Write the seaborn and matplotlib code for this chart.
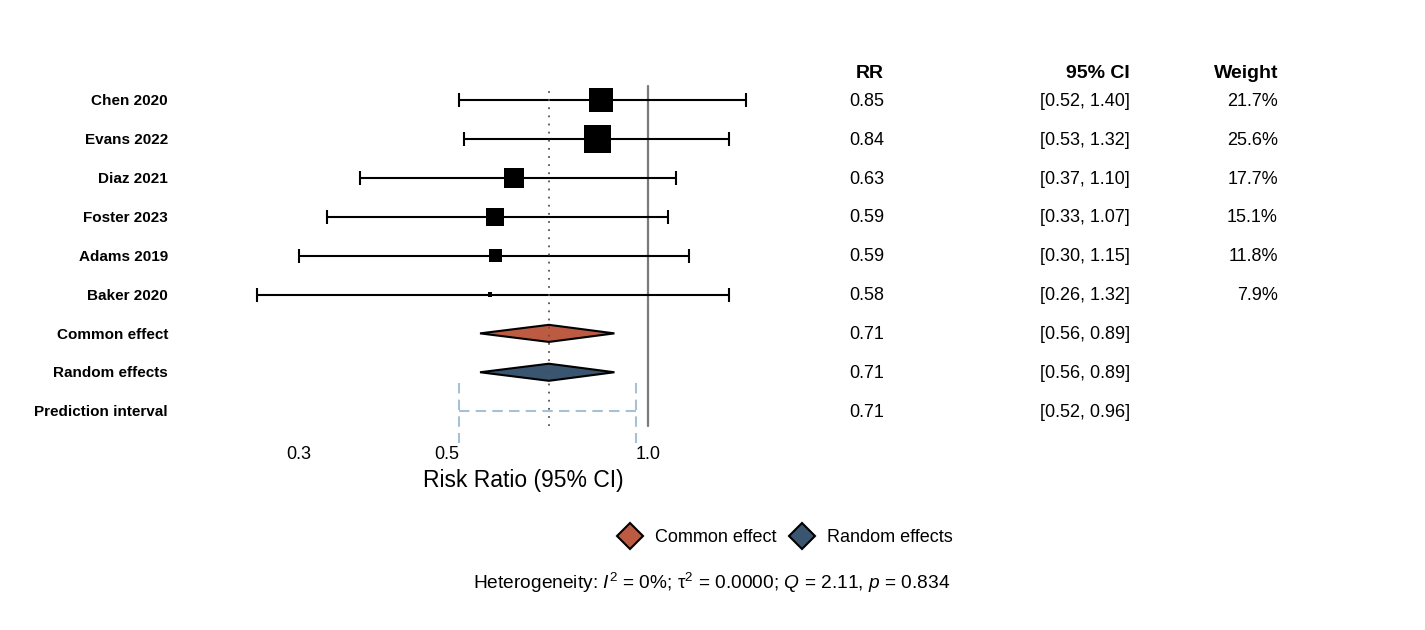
import numpy as np
import pandas as pd
import matplotlib
matplotlib.use("Agg")
import matplotlib.pyplot as plt
import matplotlib.transforms as mtransforms
from matplotlib.lines import Line2D
import seaborn as sns

# study level data
studies = ["Chen 2020", "Evans 2022", "Diaz 2021", "Foster 2023", "Adams 2019", "Baker 2020"]
rr = [0.85, 0.84, 0.63, 0.59, 0.59, 0.58]
ci_low = [0.52, 0.53, 0.37, 0.33, 0.30, 0.26]
ci_high = [1.40, 1.32, 1.10, 1.07, 1.15, 1.32]
weight = [21.7, 25.6, 17.7, 15.1, 11.8, 7.9]

# pooled estimates
pooled_labels = ["Common effect", "Random effects", "Prediction interval"]
pooled_rr = [0.71, 0.71, 0.71]
pooled_low = [0.56, 0.56, 0.52]
pooled_high = [0.89, 0.89, 0.96]

x_ticks = [0.3, 0.5, 1.0]
heterogeneity = r"Heterogeneity: $I^2$ = 0%; τ$^2$ = 0.0000; $Q$ = 2.11, $p$ = 0.834"

col_common = "#BC5A42"
col_random = "#3A5570"
col_pi = "#A8C0D4"

sns.set_theme(style="white")
plt.rcParams["font.family"] = ["Liberation Sans", "DejaVu Sans"]
plt.rcParams["text.color"] = "black"
plt.rcParams["axes.labelcolor"] = "black"
plt.rcParams["mathtext.fontset"] = "custom"
plt.rcParams["mathtext.rm"] = "Liberation Sans"
plt.rcParams["mathtext.it"] = "Liberation Sans:italic"

df = pd.DataFrame({"study": studies, "rr": rr, "lo": ci_low, "hi": ci_high, "w": weight})
df["row"] = np.arange(len(df))

fig = plt.figure(figsize=(14.25, 6.3), dpi=100)
ax = fig.add_axes([209 / 1425, 1 - 443 / 630, (756 - 209) / 1425, (443 - 71) / 630])

# reference lines
ax.axvline(1.0, ymin=0.045, ymax=0.96, color="#7a7a7a", lw=1.6, zorder=1)
ax.axvline(pooled_rr[1], ymin=0.045, ymax=0.96, color="#555555", lw=1.3, ls=(0, (1, 3.5)), zorder=5)

# study CIs
ax.errorbar(df["rr"], df["row"], xerr=[df["rr"] - df["lo"], df["hi"] - df["rr"]],
            fmt="none", ecolor="black", elinewidth=1.5, capsize=5, capthick=1.5, zorder=2)
sns.scatterplot(data=df, x="rr", y="row", size="w", sizes=(10, 380), marker="s",
                color="black", edgecolor="black", linewidth=0, legend=False, ax=ax, zorder=3)

# pooled diamonds
n = len(studies)
for i, col in enumerate([col_common, col_random]):
    y = n + i
    xs = [pooled_low[i], pooled_rr[i], pooled_high[i], pooled_rr[i]]
    ys = [y, y - 0.22, y, y + 0.22]
    ax.fill(xs, ys, facecolor=col, edgecolor="black", lw=1.5, zorder=4)

# prediction interval
ypi = n + 2
ax.hlines(ypi, pooled_low[2], pooled_high[2], color=col_pi, lw=1.5, ls=(0, (5, 3)), zorder=2)
ax.vlines([pooled_low[2], pooled_high[2]], ypi - 0.72, ypi + 0.9, color=col_pi, lw=1.5,
          ls=(0, (5, 3)), zorder=2)

ax.set_xscale("log")
ax.set_xlim(0.22, 1.45)
ax.set_ylim(n + 2 + 0.82, -0.75)
ax.set_xticks(x_ticks)
ax.set_xticklabels([f"{t:.1f}" for t in x_ticks], fontsize=13, color="black")
ax.xaxis.set_minor_locator(matplotlib.ticker.NullLocator())
ax.tick_params(axis="x", length=0, pad=2)
ax.set_yticks([])
ax.set_xlabel("Risk Ratio (95% CI)", fontsize=16.5, labelpad=1)
ax.xaxis.set_label_coords((523 - 209) / (756 - 209), -0.07)
ax.set_ylabel("")
sns.despine(ax=ax, left=True, bottom=True)

# text columns
tr = mtransforms.blended_transform_factory(fig.transFigure, ax.transData)
labels = studies + pooled_labels
all_rr = rr + pooled_rr
all_lo = ci_low + pooled_low
all_hi = ci_high + pooled_high
for i, lab in enumerate(labels):
    ax.text(168 / 1425, i + 0.03, lab, transform=tr, ha="right", va="center", fontsize=11,
            fontweight="bold", clip_on=False)
    ax.text(884 / 1425, i + 0.03, f"{all_rr[i]:.2f}", transform=tr, ha="right", va="center",
            fontsize=13, clip_on=False)
    ax.text(1130 / 1425, i + 0.03, f"[{all_lo[i]:.2f}, {all_hi[i]:.2f}]", transform=tr,
            ha="right", va="center", fontsize=13, clip_on=False)
for i, w in enumerate(weight):
    ax.text(1278 / 1425, i + 0.03, f"{w:.1f}%", transform=tr, ha="right", va="center",
            fontsize=13, clip_on=False)

head_y = -0.68
for xp, h in [(884, "RR"), (1130, "95% CI"), (1278, "Weight")]:
    ax.text(xp / 1425, head_y, h, transform=tr, ha="right", va="center", fontsize=14,
            fontweight="bold", clip_on=False)

# legend
handles = [Line2D([], [], marker="D", ls="none", markersize=13, markerfacecolor=c,
                  markeredgecolor="black", markeredgewidth=1.5) for c in (col_common, col_random)]
fig.legend(handles, ["Common effect", "Random effects"], loc="center",
           bbox_to_anchor=(786 / 1425, 1 - 538 / 630), ncol=2, frameon=False, fontsize=13,
           handletextpad=0.8, columnspacing=0.8, handlelength=1.2)

fig.text(712 / 1425, 1 - 583 / 630, heterogeneity, ha="center", va="center", fontsize=13.8)

fig.savefig("out.png", dpi=100)
